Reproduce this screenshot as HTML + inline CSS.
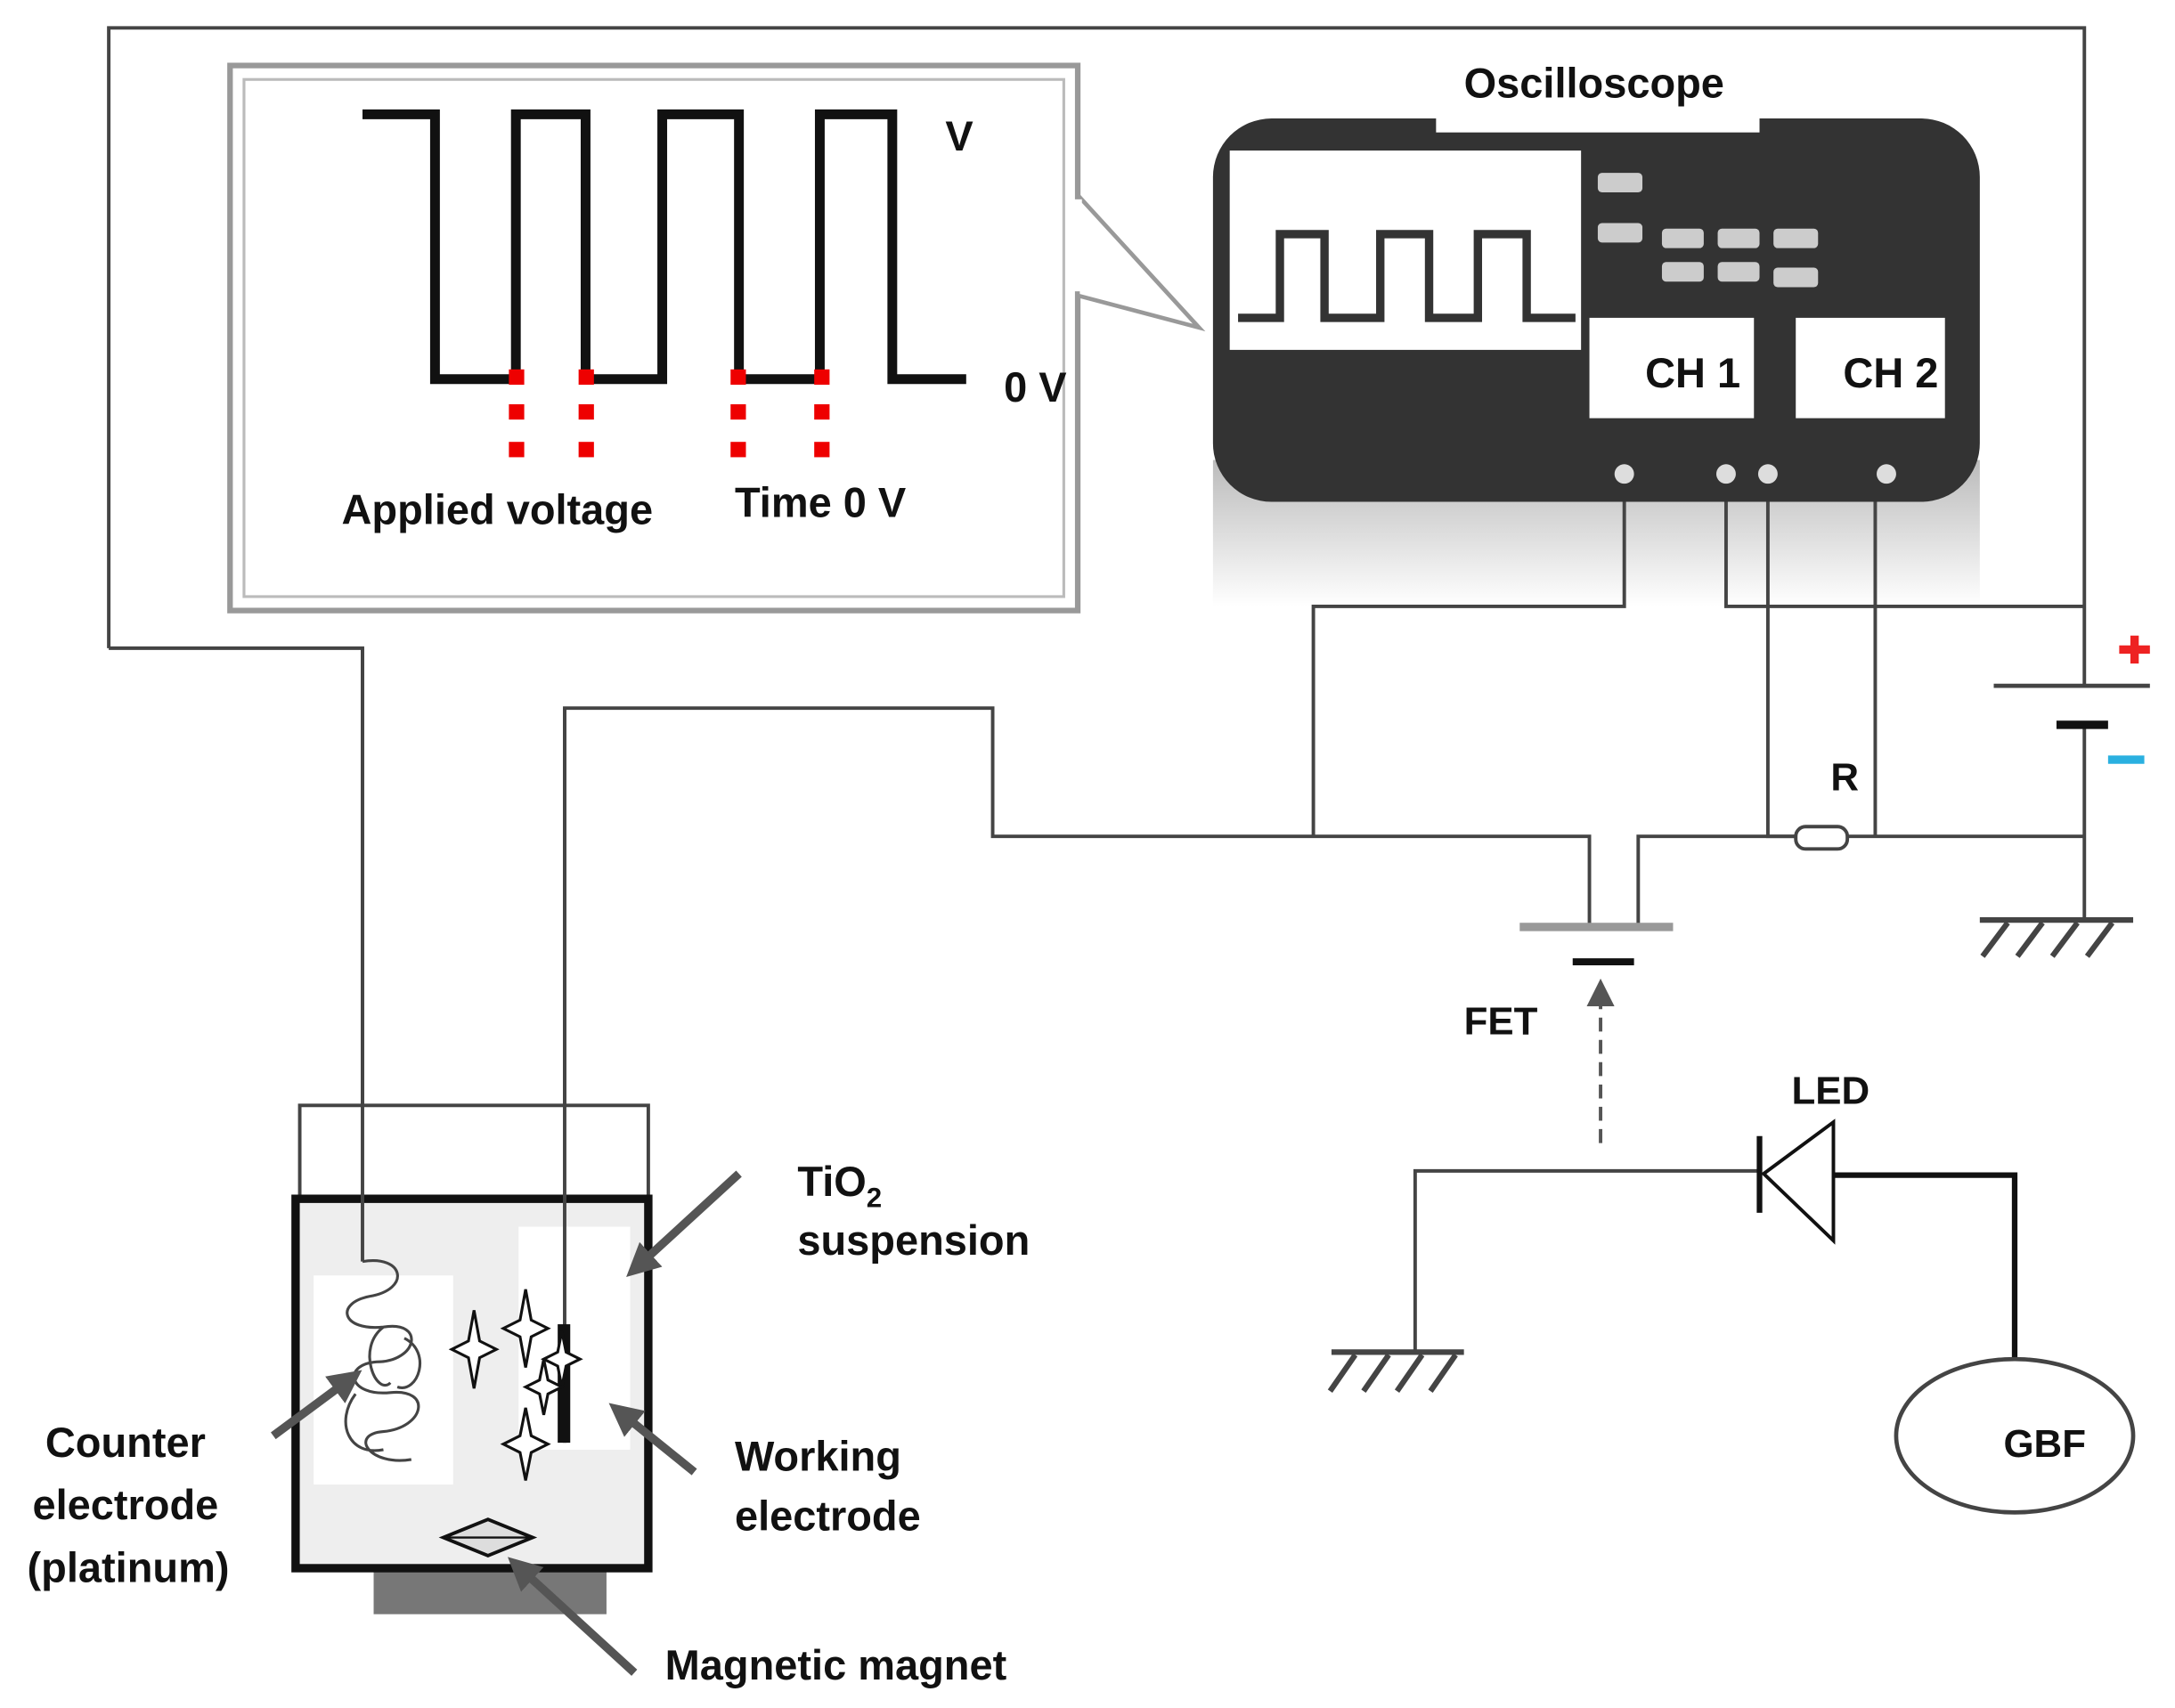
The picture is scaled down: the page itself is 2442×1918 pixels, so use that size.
<!DOCTYPE html>
<html><head><meta charset="utf-8"><style>
html,body{margin:0;padding:0;background:#fff;}
svg{display:block;}
text{font-family:"Liberation Sans",sans-serif;font-weight:bold;fill:#111;}
</style></head><body>
<svg width="2442" height="1918" viewBox="0 0 1560 1225.3" preserveAspectRatio="none" xmlns="http://www.w3.org/2000/svg">
<defs>
<marker id="ah" markerWidth="8" markerHeight="8" refX="4" refY="4" orient="auto" markerUnits="strokeWidth">
<path d="M0,0 L8,4 L0,8 z" fill="#555"/></marker>
<marker id="ah2" markerWidth="4" markerHeight="4" refX="2" refY="2" orient="auto" markerUnits="strokeWidth">
<path d="M0,0 L4,2 L0,4 z" fill="#555"/></marker>
<linearGradient id="sh" x1="0" y1="0" x2="0" y2="1"><stop offset="0" stop-color="#bbb"/><stop offset="1" stop-color="#fff"/></linearGradient>
</defs>
<!-- oscilloscope shadow -->
<rect x="870" y="330" width="550" height="105" fill="url(#sh)"/>
<g fill="none" stroke="#444" stroke-width="2.5">
<path d="M78,465 V20 H1495 V492"/>
<path d="M78,465 H260 V905"/>
<path d="M405,1035 V508 H712 V600 H1140 V665"/>
<path d="M1175,665 V600 H1495"/>
<path d="M1495,520 V660"/>
<path d="M1165,340 V435 H942 V600"/>
<path d="M1238,340 V435 H1495"/>
<path d="M1268,340 V600 H1290"/>
<path d="M1345,340 V600"/>
</g>
<!-- callout box -->
<rect x="165" y="47" width="608" height="391" fill="#fff" stroke="#999" stroke-width="4"/>
<rect x="175" y="57" width="588" height="371" fill="none" stroke="#bbb" stroke-width="2"/>
<polygon points="773,140 860,235 773,212" fill="#fff" stroke="#999" stroke-width="3"/>
<rect x="768" y="143" width="8" height="66" fill="#fff"/>
<path d="M260,82 H312 V272 H370 V82 H420 V272 H475 V82 H530 V272 H588 V82 H640 V272 H693" fill="none" stroke="#111" stroke-width="7"/>
<g fill="#e00">
<rect x="365" y="265" width="11" height="11"/><rect x="365" y="290" width="11" height="11"/><rect x="365" y="317" width="11" height="11"/>
<rect x="415" y="265" width="11" height="11"/><rect x="415" y="290" width="11" height="11"/><rect x="415" y="317" width="11" height="11"/>
<rect x="524" y="265" width="11" height="11"/><rect x="524" y="290" width="11" height="11"/><rect x="524" y="317" width="11" height="11"/>
<rect x="584" y="265" width="11" height="11"/><rect x="584" y="290" width="11" height="11"/><rect x="584" y="317" width="11" height="11"/>
</g>
<text x="678" y="108" font-size="30">V</text>
<text x="720" y="288" font-size="30">0 V</text>
<text x="245" y="376" font-size="30">Applied voltage</text>
<text x="527" y="371" font-size="30">Time 0 V</text>
<!-- oscilloscope -->
<rect x="870" y="85" width="550" height="275" rx="42" fill="#333"/>
<rect x="882" y="108" width="252" height="143" fill="#fff"/>
<path d="M888,228 H918 V168 H950 V228 H990 V168 H1025 V228 H1060 V168 H1095 V228 H1130" fill="none" stroke="#333" stroke-width="6"/>
<g fill="#ccc">
<rect x="1146" y="124" width="32" height="14" rx="3"/><rect x="1146" y="160" width="32" height="14" rx="3"/>
<rect x="1192" y="164" width="30" height="14" rx="3"/><rect x="1232" y="164" width="30" height="14" rx="3"/><rect x="1272" y="164" width="32" height="14" rx="3"/>
<rect x="1192" y="188" width="30" height="14" rx="3"/><rect x="1232" y="188" width="30" height="14" rx="3"/><rect x="1272" y="192" width="32" height="14" rx="3"/>
</g>
<rect x="1140" y="228" width="118" height="72" fill="#fff"/>
<rect x="1288" y="228" width="107" height="72" fill="#fff"/>
<text x="1180" y="278" font-size="30" font-weight="normal">CH 1</text>
<text x="1322" y="278" font-size="30" font-weight="normal">CH 2</text>
<g fill="#ddd"><circle cx="1165" cy="340" r="7"/><circle cx="1238" cy="340" r="7"/><circle cx="1268" cy="340" r="7"/><circle cx="1353" cy="340" r="7"/></g>
<rect x="1030" y="22" width="232" height="73" fill="#fff"/>
<text x="1050" y="70" font-size="30">Oscilloscope</text>
<!-- FET -->
<line x1="1090" y1="665" x2="1200" y2="665" stroke="#999" stroke-width="6"/>
<line x1="1128" y1="690" x2="1172" y2="690" stroke="#111" stroke-width="5"/>
<line x1="1148" y1="820" x2="1148" y2="712" stroke="#555" stroke-width="2.5" stroke-dasharray="10,6" marker-end="url(#ah)"/>
<text x="1050" y="742" font-size="28">FET</text>
<rect x="1288" y="593" width="37" height="16" rx="7" fill="#fff" stroke="#444" stroke-width="2.5"/>
<text x="1313" y="567" font-size="28">R</text>
<line x1="1430" y1="492" x2="1542" y2="492" stroke="#444" stroke-width="3"/>
<line x1="1475" y1="520" x2="1512" y2="520" stroke="#111" stroke-width="6"/>
<path d="M1520,466 H1542 M1531,456 V476" stroke="#e22" stroke-width="6"/>
<line x1="1512" y1="545" x2="1538" y2="545" stroke="#2ab0e0" stroke-width="6"/>
<g stroke="#444" stroke-width="4" fill="none">
<path d="M1420,660 H1530 M1440,662 L1422,686 M1465,662 L1447,686 M1490,662 L1472,686 M1515,662 L1497,686"/>
<path d="M955,970 H1050 M972,972 L954,998 M996,972 L978,998 M1020,972 L1002,998 M1044,972 L1026,998"/>
<path d="M1015,970 V840 H1262" stroke-width="2.5"/>
<path d="M1315,843 H1445 V975" stroke="#111" stroke-width="4"/>
</g>
<polygon points="1265,842 1315,805 1315,890" fill="#fff" stroke="#111" stroke-width="2.5"/>
<line x1="1262" y1="815" x2="1262" y2="870" stroke="#111" stroke-width="4"/>
<text x="1285" y="792" font-size="28">LED</text>
<ellipse cx="1445" cy="1030" rx="85" ry="55" fill="#fff" stroke="#444" stroke-width="3"/>
<text x="1437" y="1045" font-size="28">GBF</text>
<!-- beaker -->
<rect x="215" y="793" width="250" height="67" fill="#fff" stroke="#444" stroke-width="2.5"/>
<rect x="268" y="1120" width="167" height="38" fill="#777"/>
<rect x="212" y="860" width="253" height="265" fill="#eee" stroke="#111" stroke-width="6"/>
<rect x="225" y="915" width="100" height="150" fill="#fff"/>
<rect x="372" y="880" width="80" height="160" fill="#fff"/>
<path d="M260,465 V905" stroke="#444" stroke-width="2.5"/>
<path d="M260,905 c30,-5 35,20 5,25 c-25,5 -20,25 10,22 c30,-5 25,25 -5,25 c-25,2 -20,25 10,22 c30,-3 25,25 -5,28 c-25,2 -10,25 20,20 M275,952 c-20,15 -5,50 5,40 M255,1000 c-15,20 -5,45 20,40 M290,960 c20,10 10,40 -5,35" fill="none" stroke="#444" stroke-width="2"/>
<path d="M405,508 V1035" stroke="#444" stroke-width="2.5"/>
<rect x="400" y="950" width="9" height="85" fill="#111"/>
<g fill="#fff" stroke="#111" stroke-width="2">
<path d="M340,940 l4,22 l12,6 l-12,6 l-4,22 l-4,-22 l-12,-6 l12,-6 z"/>
<path d="M377,925 l4,22 l12,6 l-12,6 l-4,22 l-4,-22 l-12,-6 l12,-6 z"/>
<path d="M403,955 l3,15 l10,5 l-10,5 l-3,15 l-3,-15 l-10,-5 l10,-5 z"/>
<path d="M390,975 l3,15 l10,5 l-10,5 l-3,15 l-3,-15 l-10,-5 l10,-5 z"/>
<path d="M377,1010 l4,20 l12,6 l-12,6 l-4,20 l-4,-20 l-12,-6 l12,-6 z"/>
</g>
<polygon points="318,1103 350,1090 382,1103 350,1116" fill="#ddd" stroke="#111" stroke-width="2.5"/>
<line x1="318" y1="1103" x2="382" y2="1103" stroke="#111" stroke-width="1.5"/>
<g stroke="#555" stroke-width="6" fill="none" marker-end="url(#ah2)">
<line x1="530" y1="842" x2="458" y2="908"/>
<line x1="196" y1="1030" x2="250" y2="990"/>
<line x1="498" y1="1056" x2="446" y2="1014"/>
<line x1="455" y1="1200" x2="373" y2="1125"/>
</g>
<text x="572" y="858" font-size="30">TiO<tspan font-size="20" dy="8">2</tspan></text>
<text x="572" y="900" font-size="30">suspension</text>
<text x="90" y="1045" font-size="30" text-anchor="middle">Counter</text>
<text x="90" y="1090" font-size="30" text-anchor="middle">electrode</text>
<text x="92" y="1135" font-size="30" text-anchor="middle">(platinum)</text>
<text x="527" y="1055" font-size="30">Working</text>
<text x="527" y="1098" font-size="30">electrode</text>
<text x="477" y="1205" font-size="30">Magnetic magnet</text>
</svg>
</body></html>
